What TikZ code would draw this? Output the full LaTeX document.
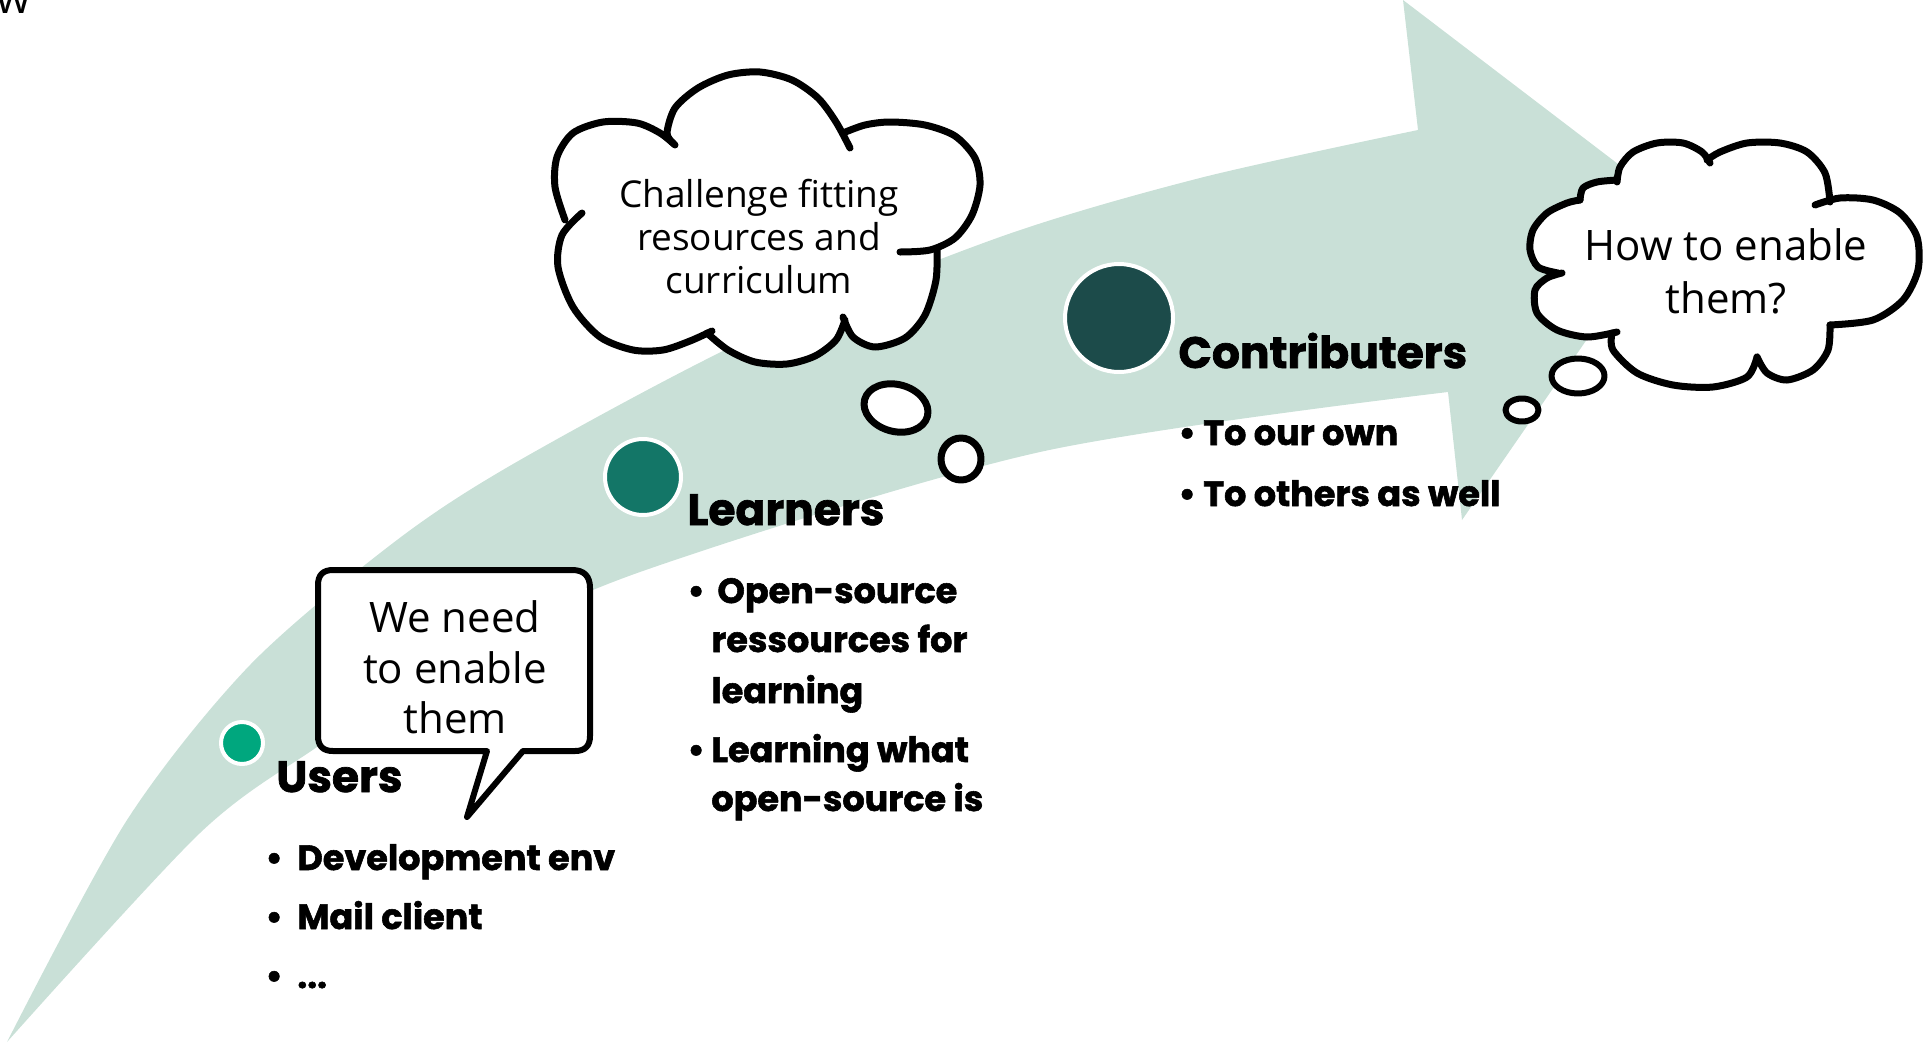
\documentclass[tikz,border=0pt]{standalone}
\usepackage{fontspec}
\setmainfont{Open Sans}
\newfontfamily\heavy{Poppins}[BoldFeatures={FakeBold=1.6}]
\definecolor{band}{HTML}{C9E0D7}
\definecolor{usercol}{HTML}{00A77E}
\definecolor{learncol}{HTML}{137667}
\definecolor{contribcol}{HTML}{1C4B4A}
\tikzset{
  cloudline/.style={line width=3.5pt, line cap=round, line join=round},
  bubline/.style={line width=3pt, line cap=round, line join=round},
  head/.style={anchor=base west, inner sep=0, font=\heavy\bfseries\fontsize{22}{26}\selectfont},
  listitem/.style={anchor=base west, inner sep=0, font=\heavy\bfseries\fontsize{17.5}{20}\selectfont},
  thoughttext/.style={anchor=base, inner sep=0, font=\fontsize{18.5}{22}\selectfont},
  saytext/.style={anchor=base, inner sep=0, font=\fontsize{21}{25}\selectfont},
  stagedot/.style={circle, draw=white, line width=2pt, inner sep=0pt},
}
\begin{document}
\begin{tikzpicture}[x=0.5pt,y=-0.5pt]
\useasboundingbox (0,0) rectangle (1926,1044);
\clip (0,0) rectangle (1926,1044);

% fragment of text at top-left corner
\node[anchor=base west, inner sep=0, font=\fontsize{22}{22}\selectfont] (wfrag) at (-4,13) {w};

% big curved arrow
\fill[band] plot[smooth] coordinates {(7,1042) (127,820) (250,665) (397,540) (520,460) (750,338) (1000,237) (1200,178) (1418,130)}
  -- (1403,0) -- (1677,209) -- (1462,520) -- (1448,392)
  -- plot[smooth] coordinates {(1448,392) (1040,452) (640,572) (450,660) (317,747) (200,833) (7,1042)} -- cycle;

% stage dots
\node[stagedot, fill=usercol, minimum size=21pt] (usersdot) at (242,743) {};
\node[stagedot, fill=learncol, minimum size=38pt] (learnersdot) at (643,477) {};
\node[stagedot, fill=contribcol, minimum size=54pt] (contribdot) at (1119,318) {};

% headings
\node[head] (users) at (276,792) {Users};
\node[head] (learners) at (687,525) {Learners};
\node[head] (contrib) at (1178,368) {Contributers};

% lists
\node[listitem] (u1) at (265,870) {\makebox[16pt][l]{•}Development env};
\node[listitem] (u2) at (265,929) {\makebox[16pt][l]{•}Mail client};
\node[listitem] (u3) at (265,988) {\makebox[16pt][l]{•}...};

\node[listitem] (l1) at (687,603) {\makebox[12pt][l]{•}\hspace{3pt}Open-source};
\node[listitem] (l2) at (711,652) {ressources for};
\node[listitem] (l3) at (711,703) {learning};
\node[listitem] (l4) at (687,762) {\makebox[12pt][l]{•}Learning what};
\node[listitem] (l5) at (711,811) {open-source is};

\node[listitem] (c1) at (1178,445) {\makebox[12.5pt][l]{•}To our own};
\node[listitem] (c2) at (1178,506) {\makebox[12.5pt][l]{•}To others as well};

% speech bubble
\filldraw[bubline, fill=white] (487,751) -- (333,751) .. controls (323,751) and (318,746) .. (318,736)
  -- (318,585) .. controls (318,575) and (323,570) .. (333,570) -- (572,570)
  .. controls (584,570) and (590,576) .. (590,588) -- (590,736)
  .. controls (590,746) and (585,751) .. (575,751) -- (523,751) -- (467,817) -- cycle;
\node[saytext] (say1) at (455,632) {We need};
\node[saytext] (say2) at (455,683) {to enable};
\node[saytext] (say3) at (455,733) {them};

% thought cloud 1
\def\cA{(673,143) (667,133) (675,108) (698,88) (728,75) (760,72) (792,80) (818,98) (836,122) (850,148)}
\def\cB{(843,133) (865,125) (890,122) (925,125) (955,136) (975,158) (980,185) (972,215) (955,238) (930,250) (900,252)}
\def\cC{(937,248) (936,280) (925,315) (905,338) (875,347) (853,337) (843,317)}
\def\cD{(845,320) (836,340) (815,356) (787,364) (755,362) (728,350) (707,333)}
\def\cE{(712,331) (690,341) (663,350) (633,350) (600,337) (573,307) (558,267) (562,235) (582,213)}
\def\cF{(565,220) (555,187) (557,157) (573,133) (603,122) (637,123) (660,133) (675,145)}
\fill[white] plot[smooth] coordinates {\cA} -- plot[smooth] coordinates {\cB} -- plot[smooth] coordinates {\cC}
  -- plot[smooth] coordinates {\cD} -- plot[smooth] coordinates {\cE} -- plot[smooth] coordinates {\cF} -- cycle;
\foreach \b in {\cA,\cB,\cC,\cD,\cE,\cF} {\draw[cloudline] plot[smooth] coordinates {\b};}
\draw[cloudline, fill=white, rotate around={-15:(896,408)}] (896,408) ellipse [x radius=16.25pt, y radius=11.75pt];
\draw[cloudline, fill=white] (961,459) ellipse [x radius=10pt, y radius=10.5pt];
\node[thoughttext] (t1) at (759,207) {Challenge fitting};
\node[thoughttext] (t2) at (759,250) {resources and};
\node[thoughttext] (t3) at (759,293) {curriculum};

% thought cloud 2
\def\dA{(1580,200) (1583,188) (1597,182) (1617,180)}
\def\dB{(1617,182) (1620,167) (1633,152) (1657,143) (1683,143) (1702,152) (1710,163)}
\def\dC{(1707,160) (1720,152) (1747,143) (1780,143) (1807,152) (1825,173) (1830,202)}
\def\dD{(1815,205) (1840,198) (1873,200) (1900,213) (1917,237) (1918,270) (1903,300) (1873,320) (1830,325)}
\def\dE{(1830,325) (1828,350) (1813,370) (1787,380) (1767,373) (1757,357)}
\def\dF{(1757,357) (1747,377) (1713,387) (1673,385) (1637,373) (1613,350) (1612,333)}
\def\dG{(1617,332) (1587,337) (1557,330) (1537,313) (1535,290) (1547,278) (1562,273)}
\def\dH{(1558,273) (1538,267) (1530,250) (1533,230) (1547,213) (1567,203) (1580,200)}
\fill[white] plot[smooth] coordinates {\dA} -- plot[smooth] coordinates {\dB} -- plot[smooth] coordinates {\dC}
  -- plot[smooth] coordinates {\dD} -- plot[smooth] coordinates {\dE} -- plot[smooth] coordinates {\dF}
  -- plot[smooth] coordinates {\dG} -- plot[smooth] coordinates {\dH} -- cycle;
\foreach \b in {\dA,\dB,\dC,\dD,\dE,\dF,\dG,\dH} {\draw[cloudline] plot[smooth] coordinates {\b};}
\draw[bubline, fill=white] (1578,376) ellipse [x radius=13.25pt, y radius=8.75pt];
\draw[bubline, fill=white] (1522,410) ellipse [x radius=8.25pt, y radius=5.75pt];
\node[saytext] (h1) at (1726,260) {How to enable};
\node[saytext] (h2) at (1726,313) {them?};
\end{tikzpicture}
\end{document}
